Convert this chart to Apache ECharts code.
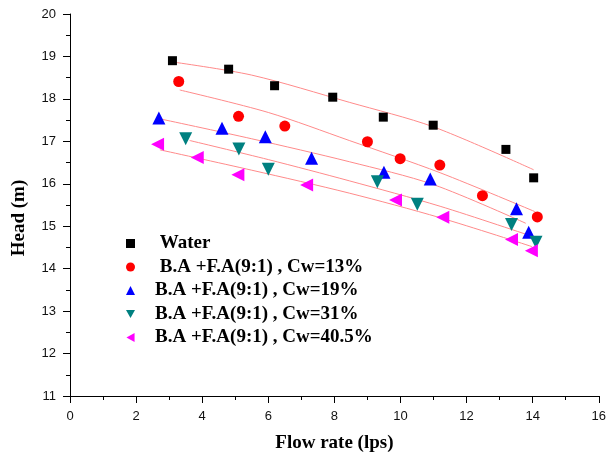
<!DOCTYPE html>
<html><head><meta charset="utf-8">
<script src="https://cdn.jsdelivr.net/npm/echarts@6/dist/echarts.min.js"></script>
<style>html,body{margin:0;padding:0;background:#fff}#c{width:609px;height:463px}</style>
</head><body><div id="c"></div>
<script>
// Measured data
const waterX = [3.10,4.80,6.19,7.95,9.48,10.99,13.19,14.03];
const waterY = [18.90,18.70,18.31,18.04,17.57,17.38,16.81,16.14];
const cw13X = [3.29,5.10,6.50,9.00,9.99,11.19,12.48,14.14];
const cw13Y = [18.41,17.59,17.36,16.99,16.59,16.44,15.72,15.22];
const cw19X = [2.69,4.60,5.91,7.31,9.50,10.90,13.51,13.88];
const cw19Y = [17.55,17.31,17.11,16.60,16.27,16.11,15.41,14.86];
const cw31X = [3.50,5.11,6.00,9.30,10.51,13.36,14.10];
const cw31Y = [17.06,16.82,16.34,16.05,15.52,15.04,14.62];
const cw40X = [2.65,3.85,5.08,7.16,9.85,11.28,13.36,13.96];
const cw40Y = [16.93,16.62,16.21,15.97,15.62,15.21,14.69,14.42];

// Fit curves
const fitWaterX = [3.10,5.50,8.45,11.00,14.03];
const fitWaterY = [18.87,18.56,17.92,17.34,16.33];
const fit13X = [3.32,6.00,8.45,11.20,14.08];
const fit13Y = [18.21,17.68,17.02,16.26,15.34];
const fit19X = [2.72,5.50,8.45,11.00,13.79];
const fit19Y = [17.53,17.06,16.52,15.98,15.07];
const fit31X = [3.62,6.00,8.45,11.20,14.03];
const fit31Y = [17.02,16.57,16.07,15.47,14.75];
const fit40X = [2.72,5.50,8.45,11.20,13.98];
const fit40Y = [16.80,16.32,15.78,15.20,14.52];

const names = [' Water',' B.A +F.A(9:1) , Cw=13%','B.A +F.A(9:1) , Cw=19%','B.A +F.A(9:1) , Cw=31%','B.A +F.A(9:1) , Cw=40.5%'];
const xTicks = [0,2,4,6,8,10,12,14,16];
const yTicks = [11,12,13,14,15,16,17,18,19,20];

const zip = (a,b) => a.map((v,i)=>[v,b[i]]);
const fitColor = '#ff8a8a';
const serif = 'Liberation Serif';

const scatters = [
  {x:waterX,y:waterY,sym:'rect',size:9,rot:0,color:'#000000',icon:'rect'},
  {x:cw13X,y:cw13Y,sym:'circle',size:11,rot:0,color:'#ff0000',icon:'circle'},
  {x:cw19X,y:cw19Y,sym:'triangle',size:13,rot:0,color:'#0000ff',icon:'triangle'},
  {x:cw31X,y:cw31Y,sym:'triangle',size:13,rot:180,color:'#008080',icon:'path://M0,0L10,0L5,9Z'},
  {x:cw40X,y:cw40Y,sym:'triangle',size:13,rot:90,color:'#ff00ff',icon:'path://M10,0L10,10L1,5Z'}
];
const fits = [[fitWaterX,fitWaterY],[fit13X,fit13Y],[fit19X,fit19Y],[fit31X,fit31Y],[fit40X,fit40Y]];

const series = [];
fits.forEach(f => series.push({
  type:'line', data:zip(f[0],f[1]), smooth:0.3, showSymbol:false, silent:true,
  lineStyle:{color:fitColor,width:1}, z:1
}));
scatters.forEach((s,i) => series.push({
  name:names[i], type:'scatter', data:zip(s.x,s.y), symbol:s.sym,
  symbolSize:s.size, symbolRotate:s.rot, itemStyle:{color:s.color,opacity:1}, z:3
}));

const chart = echarts.init(document.getElementById('c'));
chart.setOption({
  animation:false,
  grid:{left:70,right:9,top:14,bottom:67},
  legend:{
    data:names.map((n,i)=>({name:n,icon:scatters[i].icon})), orient:'vertical', left:121, top:229,
    itemWidth:9, itemHeight:9, itemGap:4.5,
    textStyle:{fontFamily:serif,fontWeight:'bold',fontSize:19,color:'#000',padding:[0,0,0,15]}
  },
  xAxis:{
    type:'value', min:xTicks[0], max:xTicks[xTicks.length-1], interval:2,
    name:'Flow rate (lps)', nameLocation:'middle', nameGap:38,
    nameTextStyle:{fontFamily:serif,fontWeight:'bold',fontSize:19,color:'#000'},
    axisLine:{lineStyle:{color:'#000',width:1}},
    axisTick:{inside:false,length:7,lineStyle:{color:'#000'}},
    minorTick:{show:true,splitNumber:2,length:4,lineStyle:{color:'#000'}},
    axisLabel:{fontFamily:'Liberation Sans',fontSize:13,color:'#111',margin:14},
    splitLine:{show:false}
  },
  yAxis:{
    type:'value', min:yTicks[0], max:yTicks[yTicks.length-1], interval:1,
    name:'Head (m)', nameLocation:'middle', nameGap:41, nameRotate:90,
    nameTextStyle:{fontFamily:serif,fontWeight:'bold',fontSize:19,color:'#000',padding:[0,26,0,0]},
    axisLine:{show:true,lineStyle:{color:'#000',width:1}},
    axisTick:{show:true,inside:false,length:7,lineStyle:{color:'#000'}},
    minorTick:{show:true,splitNumber:2,length:4,lineStyle:{color:'#000'}},
    axisLabel:{fontFamily:'Liberation Sans',fontSize:13,color:'#111',margin:14},
    splitLine:{show:false}
  },
  series:series
});
</script></body></html>
